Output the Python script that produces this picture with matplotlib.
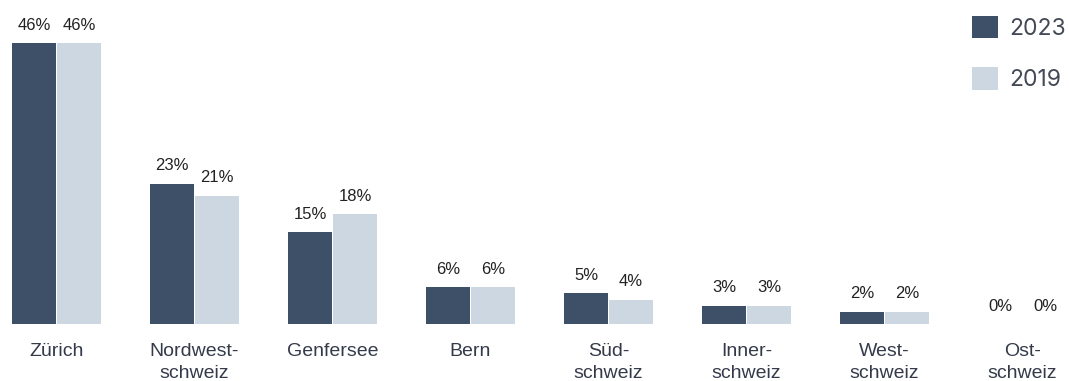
import numpy as np
from matplotlib import pyplot as plt
from matplotlib.patches import Patch

regions = ["Zürich", "Nordwest-\nschweiz", "Genfersee", "Bern", "Süd-\nschweiz",
           "Inner-\nschweiz", "West-\nschweiz", "Ost-\nschweiz"]
share_2023 = [46, 23, 15, 6, 5, 3, 2, 0]
share_2019 = [46, 21, 18, 6, 4, 3, 2, 0]

dark = "#3e5068"
light = "#cdd7e1"

fig = plt.figure(figsize=(10.69, 3.81), dpi=100)
ax = fig.add_axes([0, 57 / 381, 1, 324 / 381])

x = np.arange(len(regions))
w = 0.319
off = 0.163
ax.bar(x - off, share_2023, w, color=dark)
ax.bar(x + off, share_2019, w, color=light)

for xi, v in zip(x, share_2023):
    ax.annotate(f"{v}%", (xi - off, v), xytext=(0, 7.5), textcoords="offset points",
                ha="center", va="bottom", fontsize=12, color="#222222",
                family="Liberation Sans")
for xi, v in zip(x, share_2019):
    ax.annotate(f"{v}%", (xi + off, v), xytext=(0, 7.5), textcoords="offset points",
                ha="center", va="bottom", fontsize=12, color="#222222",
                family="Liberation Sans")

ax.set_xlim(-56.5 / 138, (1069 - 56.5) / 138)
ax.set_ylim(0, 53.1)
ax.set_xticks(x)
ax.set_xticklabels(regions, fontsize=14, color="#333a4a", family="Liberation Sans",
                   linespacing=1.38, va="top")
ax.tick_params(axis="x", length=0, pad=14)
ax.set_yticks([])
for s in ax.spines.values():
    s.set_visible(False)

handles = [Patch(facecolor=dark, label="2023"), Patch(facecolor=light, label="2019")]
fig.legend(handles=handles, loc="upper left", bbox_to_anchor=(972 / 1069, 1 - 16 / 381),
           frameon=False, borderpad=0, handlelength=1.13, handleheight=1.13,
           handletextpad=0.5, labelspacing=1.2, borderaxespad=0,
           prop={"family": "Inter", "size": 16.5}, labelcolor="#444a55")

fig.savefig("out.png", dpi=100)
